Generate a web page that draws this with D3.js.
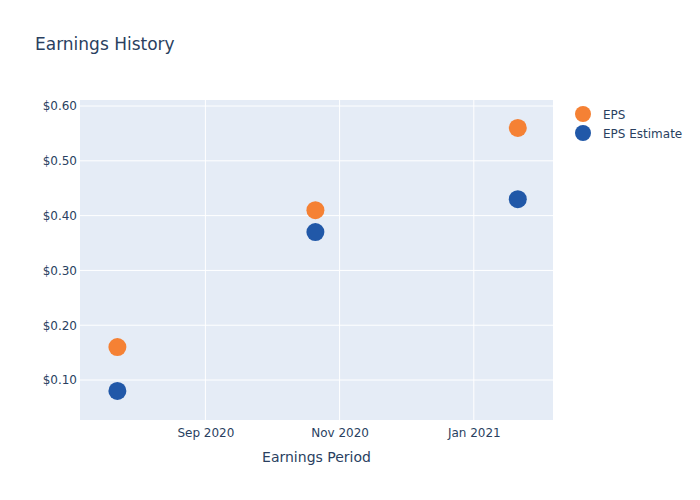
<!DOCTYPE html>
<html><head><meta charset="utf-8">
<script src="https://cdn.jsdelivr.net/npm/d3@7"></script>
<style>body{margin:0;background:#fff}svg{font-family:"DejaVu Sans",sans-serif}</style>
</head><body><svg id="c" width="700" height="500"></svg>
<script>
const periods = ["2020-07-23", "2020-10-21", "2021-01-21"];
const epsValues = [0.16, 0.41, 0.56];
const estimateValues = [0.08, 0.37, 0.43];
const yTicks = [0.10, 0.20, 0.30, 0.40, 0.50, 0.60];
const xTicks = ["2020-09-01", "2020-11-01", "2021-01-01"];
const seriesNames = ["EPS", "EPS Estimate"];
const seriesColors = ["#F58134", "#2158A8"];

const parse = d3.utcParse("%Y-%m-%d");
const svg = d3.select("#c");
const L = 80, R = 553, T = 100, B = 420;
const x = d3.scaleUtc().domain([parse("2020-07-06"), parse("2021-02-06")]).range([L, R]);
const y = d3.scaleLinear().domain([0.027, 0.611]).range([B, T]);

svg.append("rect").attr("x", L).attr("y", T).attr("width", R - L).attr("height", B - T).attr("fill", "#E5ECF6");
const txt = "#2A3F5F";
const g = svg.append("g");
g.selectAll(".gy").data(yTicks).join("line").attr("x1", L).attr("x2", R)
  .attr("y1", d => y(d)).attr("y2", d => y(d)).attr("stroke", "#fff").attr("stroke-width", 1);
g.selectAll(".gx").data(xTicks).join("line").attr("y1", T).attr("y2", B)
  .attr("x1", d => x(parse(d))).attr("x2", d => x(parse(d))).attr("stroke", "#fff").attr("stroke-width", 1);

const yAxis = svg.append("g").attr("transform", `translate(${L},0)`)
  .call(d3.axisLeft(y).tickValues(yTicks).tickFormat(d => "$" + d3.format(".2f")(d)).tickSize(0).tickPadding(3));
yAxis.select(".domain").remove();
yAxis.selectAll("text").attr("fill", txt).attr("font-size", 12).attr("font-family", "DejaVu Sans");

const xAxis = svg.append("g").attr("transform", `translate(0,${B})`)
  .call(d3.axisBottom(x).tickValues(xTicks.map(parse)).tickFormat(d3.utcFormat("%b %Y")).tickSize(0).tickPadding(8));
xAxis.select(".domain").remove();
xAxis.selectAll("text").attr("fill", txt).attr("font-size", 12).attr("font-family", "DejaVu Sans");

[0, 1].forEach(s => {
  const vals = s === 0 ? epsValues : estimateValues;
  svg.append("g").selectAll("circle").data(periods).join("circle")
    .attr("cx", p => x(parse(p))).attr("cy", (p, i) => y(vals[i])).attr("r", 9)
    .attr("fill", seriesColors[s]);
});

svg.append("text").attr("x", 35).attr("y", 50).attr("font-size", 17).attr("fill", txt).text("Earnings History");
svg.append("text").attr("x", (L + R) / 2).attr("y", 462).attr("text-anchor", "middle").attr("font-size", 14).attr("fill", txt).text("Earnings Period");

const leg = svg.append("g");
seriesNames.forEach((n, i) => {
  leg.append("circle").attr("cx", 583).attr("cy", 114 + i * 19).attr("r", 8).attr("fill", seriesColors[i]);
  leg.append("text").attr("x", 603).attr("y", 114 + i * 19 + 4.5).attr("font-size", 12).attr("fill", txt).text(n);
});
</script></body></html>
